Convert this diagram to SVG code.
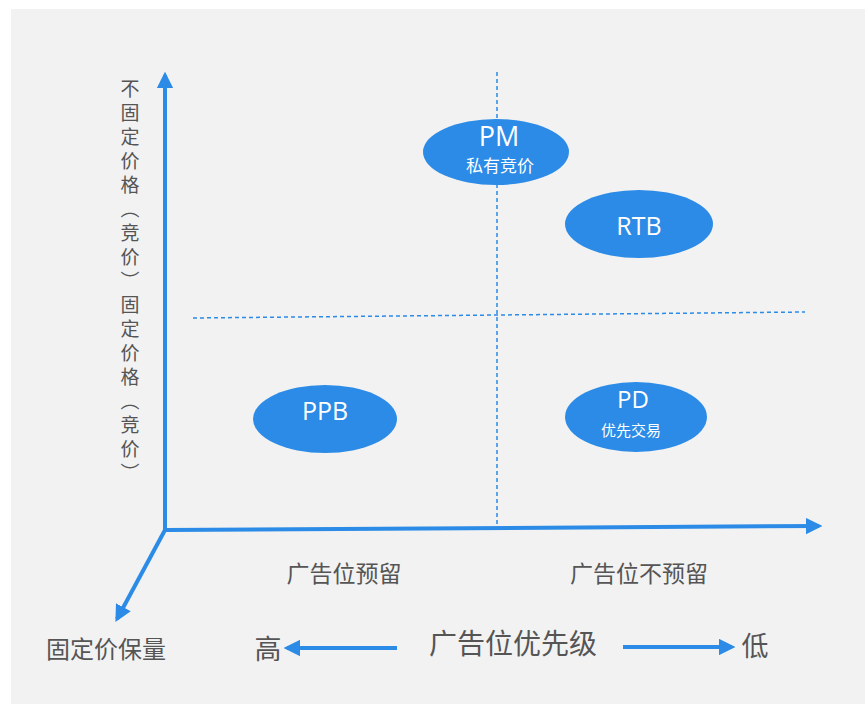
<svg xmlns="http://www.w3.org/2000/svg" width="865" height="704" viewBox="0 0 865 704">
<defs>
<style>
.ax{stroke:#2b8be6;stroke-width:4;fill:none}
.dash{stroke:#2b8be6;stroke-width:1.5;fill:none;stroke-dasharray:4 3}
.bub{fill:#2b8be6}
.en{font-family:"Open Sans","Liberation Sans",sans-serif;fill:#fff;text-anchor:middle}
.zh{font-family:"Noto Sans CJK SC","Noto Sans",sans-serif;text-anchor:middle}
.vt{font-family:"Noto Sans CJK SC","Noto Sans",sans-serif;text-anchor:start;writing-mode:vertical-rl}
.g{fill:#555}
.w{fill:#fff}
</style>
<marker id="ah" viewBox="0 0 10 10" refX="8" refY="5" markerWidth="4.2" markerHeight="4.2" orient="auto" markerUnits="strokeWidth">
<path d="M0,0 L10,5 L0,10 z" fill="#2b8be6"/>
</marker>
</defs>
<rect x="0" y="0" width="865" height="704" fill="#ffffff"/>
<rect x="11" y="9" width="854" height="695" fill="#f2f2f2"/>
<g id="connectors">
<path class="dash" d="M497,72 L497,528"/>
<path class="dash" d="M193,318 L805,312"/>
<path class="ax" d="M165,530 L165,75" marker-end="url(#ah)"/>
<path class="ax" d="M165,530 L819,526" marker-end="url(#ah)"/>
<path class="ax" d="M165,530 L117,619" marker-end="url(#ah)"/>
<path class="ax" d="M397,648 L287,648" marker-end="url(#ah)"/>
<path class="ax" d="M623,647 L732,647" marker-end="url(#ah)"/>
</g>
<g id="node-pm">
<ellipse class="bub" cx="496" cy="152" rx="73" ry="33"/>
<text class="en" x="499" y="146" font-size="27">PM</text>
<text class="zh w" x="500" y="172" font-size="17">私有竞价</text>
</g>
<g id="node-rtb">
<ellipse class="bub" cx="639" cy="224" rx="74" ry="34"/>
<text class="en" x="639" y="235" font-size="25">RTB</text>
</g>
<g id="node-ppb">
<ellipse class="bub" cx="325" cy="419" rx="72" ry="34"/>
<text class="en" x="325" y="420" font-size="25">PPB</text>
</g>
<g id="node-pd">
<ellipse class="bub" cx="636" cy="417" rx="71" ry="35"/>
<text class="en" x="633" y="408" font-size="24">PD</text>
<text class="zh w" x="631" y="436" font-size="15">优先交易</text>
</g>
<g id="labels">
<text class="vt g" x="130" y="79" font-size="19" letter-spacing="5">不固定价格（竞价）固定价格（竞价）</text>
<text class="zh g" x="344" y="582" font-size="23">广告位预留</text>
<text class="zh g" x="639" y="582" font-size="23">广告位不预留</text>
<text class="zh g" x="106" y="658" font-size="24">固定价保量</text>
<text class="zh g" x="268" y="659" font-size="27">高</text>
<text class="zh g" x="513" y="654" font-size="28">广告位优先级</text>
<text class="zh g" x="755" y="656" font-size="27">低</text>
</g>
</svg>
